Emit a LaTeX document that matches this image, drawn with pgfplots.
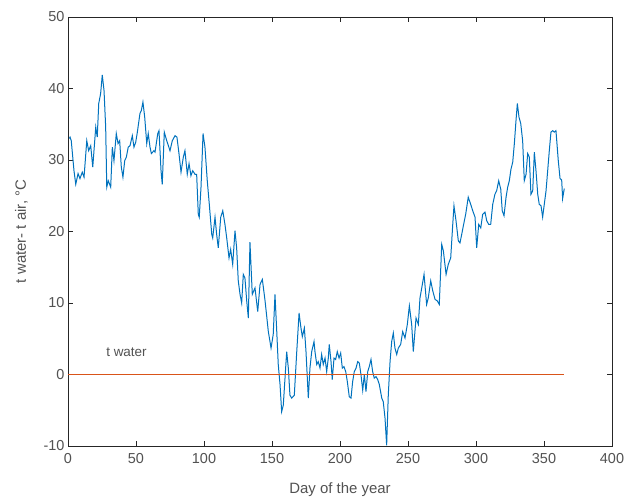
\documentclass[border=0pt]{standalone}
\usepackage{pgfplots}
\pgfplotsset{compat=1.18}
\usepackage{fontspec}
\setmainfont{Liberation Sans}
\usetikzlibrary{calc}
\definecolor{mblue}{rgb}{0,0.447,0.741}
\definecolor{morange}{rgb}{0.85,0.325,0.098}
\definecolor{axgray}{rgb}{0.15,0.15,0.15}
\begin{document}
\begin{tikzpicture}
\begin{axis}[
  scale only axis,
  width=544bp, height=429bp,
  xmin=0, xmax=400, ymin=-10, ymax=50,
  xtick={0,50,...,400}, ytick={-10,0,...,50},
  tick align=inside,
  major tick length=5bp,
  axis line style={axgray, line width=0.6bp},
  every tick/.style={axgray, line width=0.6bp},
  tick label style={font=\fontsize{14.5}{16}\selectfont, text=axgray!80},
  xticklabel style={yshift=-4bp},
  /pgf/number format/assume math mode=true,
  xlabel={Day of the year},
  ylabel={t water- t air, °C},
  label style={font=\fontsize{15}{17}\selectfont, text=axgray!80},
  xlabel style={yshift=-12bp},
  ylabel style={yshift=9bp},
]
% t water - t air
\addplot[mblue, line width=1bp] coordinates {
(1,33.0) (1.5,33.2) (2.4,32.7) (4.4,28.5) (5.7,26.6) (7.4,28.1) (8.8,27.4) (10.5,28.3) (11.8,27.6)
(13.8,32.7) (15.2,31.3) (16.7,32) (18.2,29) (20.4,34.6) (21.5,33.2) (22.6,37.9) (24,39.3)
(25.2,41.9) (26.5,39.7) (27.7,34.6) (28.5,26.2) (29.6,27.1) (31.4,26.2) (32.6,31.8) (33.8,29.9)
(35.5,33.7) (36.8,32.3) (38,32.7) (39.2,29) (40.4,27.6) (41.7,29.9) (42.9,30.4) (44.3,31.8)
(45.6,32) (47.3,33.4) (48.5,31.8) (49.8,32.5) (51,33.9) (52.9,36.5) (53.9,36.9) (55.1,38.1)
(56.4,36) (57.9,32.3) (59,33.7) (60.3,31.8) (61.3,30.9) (63.2,31.3) (64,31.1) (66,33.7)
(66.9,34.1) (68.4,28.5) (69.3,26.6) (70.8,33.9) (72.6,32.7) (75,31.3) (76.7,32.7) (78.7,33.4)
(80.1,33.2) (81.6,30.9) (83.1,28.3) (84.8,30.4) (86,31.3) (87.7,28) (89,29.5) (90.4,27.8)
(91.7,28.5) (93.4,28) (94.6,28) (95.8,22.4) (96.5,22) (97.8,26.2) (99.3,33.7) (100.7,31.8)
(102.4,27.1) (103.9,23.8) (105.7,19.6) (106.4,19.1) (108.1,22) (109.3,19.6) (110.5,17.7)
(112.3,22) (113.8,22.9) (115.4,21) (116.7,19.1) (118.4,16.3) (119.6,17.5) (121.1,15.4)
(122.8,20.1) (124,17.7) (125.2,13.1) (126.5,11.2) (127.7,10) (128.9,14) (130.1,13.5)
(131.4,10.3) (132.6,7.9) (133.8,18.5) (135.5,11.2) (137.5,12.1) (139.5,8.8) (141.2,12.6)
(142.9,13.3) (144.9,10.3) (147.3,6) (149.3,3.7) (150.9,5.6) (152.2,11.2) (153.5,6)
(154.6,1.4) (155.9,-1.4) (157.1,-5.2) (158.3,-4.3) (160.8,3.2) (162,0.9) (163.2,-2.9)
(164.5,-3.3) (166.4,-2.9) (168.2,3.2) (169.9,8.6) (171.3,6.5) (172.3,5.3) (173.8,6.5)
(175,3.2) (176.7,-3.3) (177.9,0.9) (179.2,3.2) (180.9,4.6) (181.6,3.2) (182.9,1.4) (184,1.8)
(185.3,0.9) (186.5,2.8) (187.7,1.4) (189,2.3) (190.2,0.4) (191.4,2.3) (192.1,4.2) (193.4,1.8)
(194.3,-0.7) (195.6,2.3) (196.8,2.1) (198,3.2) (199.3,2.3) (200.5,3) (201.7,0.9) (202.9,1.1)
(204.2,0.4) (205.4,-1) (206.8,-3.1) (208.1,-3.3) (209.3,-1) (210.5,0.4) (211.8,0.9) (213,1.8)
(214.2,1.6) (215.4,0) (216.7,-2.2) (217.9,0) (219.1,-2.4) (220.4,0.4) (221.5,1.1) (222.8,2.1)
(224,0.4) (225.2,-0.5) (226.5,-0.3) (227.7,-0.7) (228.9,-1.4) (230.7,-3.3) (231.8,-3.8)
(233.1,-6.1) (234.3,-9.9) (235.5,-2.9) (236.8,1.8) (238,4.6) (239.2,5.8) (240.4,3.7)
(241.7,2.8) (242.9,3.7) (244.6,4.2) (246.1,6) (247.8,5.1) (249.5,7) (251,9.6) (252.7,7)
(253.9,3.2) (255.9,7.9) (257.6,7) (258.8,10.7) (260.1,12.1) (261.8,14) (263.7,9.8) (264.9,10.7)
(266.7,13.1) (268.2,11.7) (269.9,10.5) (271.5,10.3) (273,9.8) (274.8,18.2) (276,17.3) (278,14)
(279.6,15.4) (281.4,16.3) (282.9,21) (283.8,23.6) (285.3,21.5) (287,18.7) (288.2,18.4)
(289.5,19.6) (290.7,20.8) (292.4,22.4) (294.3,24.8) (296.1,23.8) (297.6,22.9) (299.3,22)
(300.5,17.7) (302,21) (303.5,20.5) (304.9,22.4) (306.6,22.7) (307.9,21.5) (309.3,21) (310.8,21)
(312.3,23.8) (313.9,25.2) (315.2,25.7) (316.7,27.1) (318.2,25.9) (319.3,22.9) (320.6,22.2)
(322.1,24.8) (323.3,26.2) (324.5,27.1) (325.7,28.7) (327,29.7) (328.2,32.3) (329.4,35.5)
(330.4,37.9) (331.6,36) (332.9,35.1) (334.3,32.7) (335.5,27.1) (336.8,28) (338,30.9) (339.2,30.4)
(340.4,25.2) (341.7,25.7) (342.9,31.1) (344.1,28.5) (345.4,25.2) (346.5,23.8) (347.8,23.6)
(349,22) (350.2,23.8) (351.5,25.7) (352.7,28.5) (353.9,31.3) (355.1,33.9) (356.4,34.1)
(357.6,33.9) (358.8,34.1) (360.5,29.9) (361.8,27.4) (363,27.2) (363.7,24.6) (364.9,26)
};
% t water
\addplot[morange, line width=1bp] coordinates {(0,0) (365,0)};
\node[anchor=center, font=\fontsize{13.5}{15}\selectfont, text=axgray!80] at (axis cs:43,3.1) {t water};
\end{axis}
\pgfresetboundingbox
\path[use as bounding box] ($(current axis.south west)+(-68bp,-51bp)$) rectangle ($(current axis.north east)+(12bp,17bp)$);
\end{tikzpicture}
\end{document}
